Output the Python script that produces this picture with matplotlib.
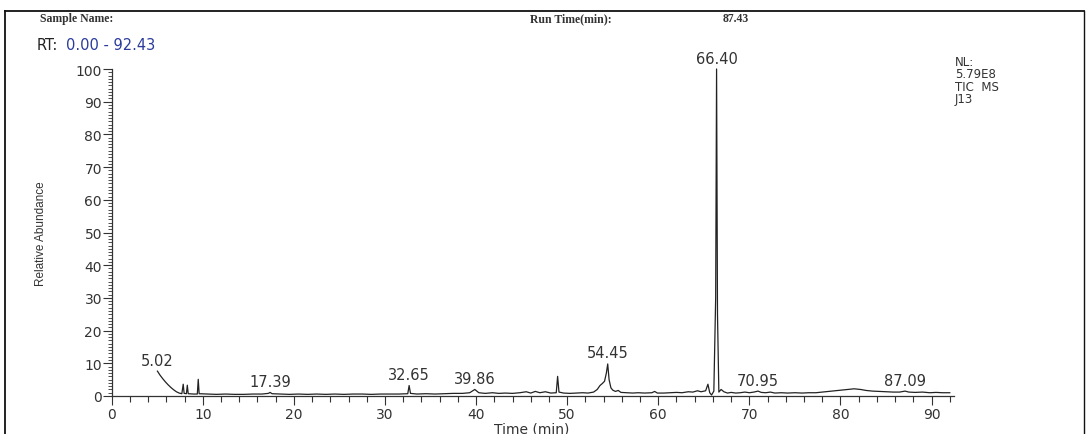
"""
TIC chromatogram (sample J13) redrawn in matplotlib.
Values read off the Xcalibur print-out by eye.
"""

import numpy as np
import matplotlib
matplotlib.use("Agg")
import matplotlib.pyplot as plt
from matplotlib.lines import Line2D
from matplotlib.ticker import MultipleLocator

# ─── data (retention time in min, relative abundance in %) ───
rt_min = [
    5.02, 5.3, 5.6, 5.9, 6.2, 6.5, 6.8, 7.1, 7.4, 7.7,
    7.85, 7.95, 8.2, 8.3, 8.4, 9.0, 9.4, 9.5, 9.6, 10.5,
    11.5, 12.5, 13.5, 14.5, 15.5, 16.5, 17.2, 17.39, 17.6, 18.5,
    19.5, 20.5, 21.5, 22.5, 23.5, 24.5, 25.5, 26.5, 27.5, 28.5,
    29.5, 30.5, 31.5, 32.5, 32.65, 32.8, 33.5, 34.5, 35.5, 36.5,
    37.5, 38.5, 39.3, 39.86, 40.3, 41.0, 41.8, 42.5, 43.2, 44.0,
    44.8, 45.5, 46.0, 46.5, 47.0, 47.6, 48.2, 48.8, 48.95, 49.1,
    49.6, 50.3, 51.0, 51.7, 52.3, 52.9, 53.3, 53.6, 53.85, 54.1,
    54.3, 54.45, 54.6, 54.8, 55.0, 55.3, 55.6, 55.9, 56.5, 57.2,
    57.8, 58.5, 59.3, 59.6, 59.9, 60.6, 61.3, 62.0, 62.6, 63.3,
    63.8, 64.3, 64.7, 65.2, 65.45, 65.65, 65.85, 66.1, 66.3, 66.40,
    66.5, 66.65, 66.9, 67.2, 67.6, 68.0, 68.5, 69.0, 69.5, 70.0,
    70.5, 70.95, 71.3, 71.8, 72.3, 72.8, 73.5, 74.2, 75.0, 75.8,
    76.5, 77.3, 78.0, 78.8, 79.5, 80.2, 80.8, 81.5, 82.2, 82.8,
    83.5, 84.2, 85.0, 85.8, 86.5, 87.09, 87.5, 88.2, 89.0, 89.8,
    90.5, 91.2, 92.0,
]
rel_abundance = [
    7.6, 6.4, 5.3, 4.3, 3.4, 2.6, 1.9, 1.3, 0.9, 0.7,
    3.6, 0.8, 0.7, 3.3, 0.7, 0.6, 0.6, 5.1, 0.7, 0.6,
    0.5, 0.6, 0.5, 0.5, 0.6, 0.6, 0.8, 1.1, 0.7, 0.6,
    0.5, 0.6, 0.5, 0.6, 0.5, 0.6, 0.5, 0.6, 0.6, 0.5,
    0.6, 0.6, 0.6, 0.7, 3.2, 0.8, 0.6, 0.7, 0.6, 0.7,
    0.8, 0.8, 1.0, 2.0, 1.0, 0.8, 1.0, 0.8, 0.9, 0.8,
    1.0, 1.3, 0.9, 1.4, 1.0, 1.3, 0.9, 1.0, 6.0, 1.2,
    0.9, 0.8, 0.9, 1.0, 0.9, 1.2, 2.0, 3.2, 3.8, 4.5,
    7.0, 9.8, 5.0, 2.5, 1.8, 1.4, 1.7, 1.1, 1.0, 0.9,
    1.0, 0.9, 1.0, 1.4, 0.9, 0.9, 1.0, 1.1, 1.0, 1.3,
    1.2, 1.6, 1.3, 1.6, 3.6, 1.0, 0.3, 1.5, 30.0, 100.0,
    25.0, 1.2, 2.0, 1.3, 0.9, 1.1, 0.9, 1.0, 1.2, 1.0,
    1.2, 1.5, 1.1, 1.0, 1.2, 0.9, 1.0, 0.9, 1.0, 0.9,
    1.0, 1.0, 1.2, 1.4, 1.6, 1.8, 2.0, 2.2, 2.0, 1.7,
    1.5, 1.4, 1.3, 1.2, 1.2, 1.5, 1.2, 1.1, 1.2, 1.0,
    1.1, 1.0, 1.0,
]

# labelled peaks (must be entries of rt_min)
peak_labels = [5.02, 17.39, 32.65, 39.86, 54.45, 66.40, 70.95, 87.09]

x_ticks = [0, 10, 20, 30, 40, 50, 60, 70, 80, 90]
y_ticks = [0, 10, 20, 30, 40, 50, 60, 70, 80, 90, 100]

rt_range = (0.00, 92.43)
header_fields = [("Sample Name:", 40), ("Run Time(min):", 530), ("87.43", 723)]
nl_block = "NL:\n5.79E8\nTIC  MS\nJ13"

W, H = 1086, 435
TXT = "#333333"
BLUE = "#2a3b9c"


def fx(px):
    return px / W


def fy(py):
    return 1 - py / H


fig = plt.figure(figsize=(W / 100, H / 100), dpi=100)
fig.patch.set_facecolor("white")

# page frame
fig.add_artist(Line2D([fx(5), fx(1084)], [fy(12), fy(12)], color="#111", lw=1.3))
fig.add_artist(Line2D([fx(5), fx(5)], [fy(12), 0], color="#111", lw=1.3))
fig.add_artist(Line2D([fx(1084), fx(1084)], [fy(12), 0], color="#111", lw=1.0))

for txt, px in header_fields:
    fig.text(fx(px), fy(19), txt, ha="left", va="center", fontsize=8.5,
             family="Liberation Serif", fontweight="bold", color=TXT)

fig.text(fx(37), fy(46), "RT:", ha="left", va="center", fontsize=10.5,
         family="DejaVu Sans", color="#222")
fig.text(fx(66), fy(46), f"{rt_range[0]:.2f} - {rt_range[1]:.2f}", ha="left",
         va="center", fontsize=10.5, family="DejaVu Sans", color=BLUE)

fig.text(fx(955), fy(56), nl_block, ha="left", va="top", fontsize=8.5,
         family="DejaVu Sans", color=TXT, linespacing=0.95)

# ─── chromatogram ───
x0, x1 = 111.7, 953.7
ax = fig.add_axes([fx(x0), fy(397), (x1 - x0) / W, (397 - 70) / H])
ax.plot(rt_min, rel_abundance, color="#222222", lw=0.9, clip_on=False)

ax.set_xlim(*rt_range)
ax.set_ylim(0, 100)
for side in ("top", "right"):
    ax.spines[side].set_visible(False)
for side in ("left", "bottom"):
    ax.spines[side].set_color("#333")
    ax.spines[side].set_linewidth(0.9)

ax.set_xticks(x_ticks)
ax.set_yticks(y_ticks)
ax.xaxis.set_minor_locator(MultipleLocator(2))
ax.yaxis.set_minor_locator(MultipleLocator(1))
ax.tick_params(axis="x", which="major", length=6.5, width=0.8, pad=1.5,
               direction="out", color="#333", labelsize=10, labelcolor=TXT)
ax.tick_params(axis="x", which="minor", length=4.3, width=0.8,
               direction="out", color="#333")
ax.tick_params(axis="y", which="major", length=6.5, width=0.8, pad=0.5,
               direction="out", color="#333", labelsize=10, labelcolor=TXT)
ax.tick_params(axis="y", which="minor", length=3.0, width=0.6,
               direction="out", color="#333")
for lab in ax.get_xticklabels() + ax.get_yticklabels():
    lab.set_family("DejaVu Sans")

ax.set_ylabel("Relative Abundance", fontsize=8.5, family="Liberation Sans",
              color=TXT)
ax.yaxis.set_label_coords(-(x0 - 47) / (x1 - x0), 0.5)
fig.text(fx(532), fy(423), "Time (min)", ha="center", va="top", fontsize=10,
         family="DejaVu Sans", color=TXT)

for rt in peak_labels:
    i = rt_min.index(rt)
    ax.annotate(f"{rt:.2f}", (rt, rel_abundance[i]), xytext=(0, 2.5),
                textcoords="offset points", ha="center", va="bottom",
                fontsize=10.5, family="DejaVu Sans", color=TXT,
                annotation_clip=False)

fig.savefig("out.png", dpi=100)
